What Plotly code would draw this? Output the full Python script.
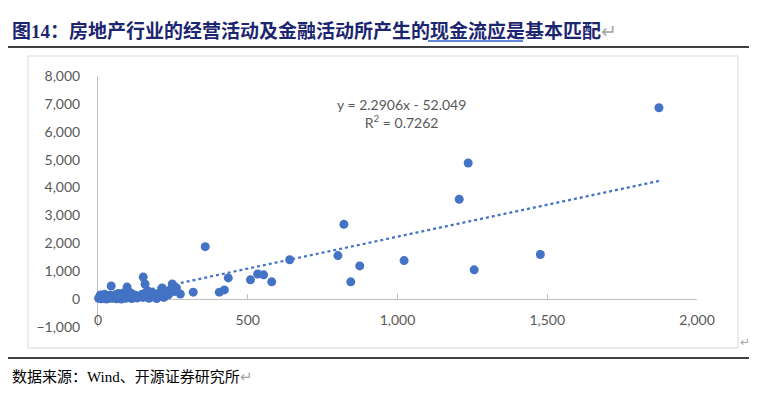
import plotly.graph_objects as go

# ---- data ----
x_vals = [2, 5, 8, 10, 12, 15, 18, 20, 22, 25, 28, 30, 33, 36, 40, 44, 45, 48, 52, 55,
          58, 62, 65, 68, 72, 75, 78, 82, 85, 88, 92, 95, 97, 100, 105, 108, 112, 115, 120, 125,
          130, 145, 150, 151, 155, 157, 160, 165, 170, 175, 180, 185, 190, 196, 200, 205, 210, 214,
          220, 228, 235, 240, 248, 255, 262, 275, 318, 358, 405, 422, 435, 509, 533, 553, 580,
          640, 801, 821, 844, 874, 1022, 1206, 1236, 1256, 1477, 1873]
y_vals = [30, 80, 150, 10, 60, 120, 20, 90, 170, 40, 0, 110, 60, 20, 140, 470, 70, 30, 100, 50,
          160, 10, 80, 200, 40, 120, 0, 60, 220, 100, 30, 150, 430, 60, 250, 120, 20, 180, 80, 140,
          40, 150, 60, 790, 200, 540, 100, 300, 30, 160, 250, 80, 120, 20, 200, 90, 140, 400,
          60, 250, 150, 330, 540, 270, 400, 180, 250, 1880, 250, 330, 760, 690, 900, 870, 620,
          1410, 1560, 2680, 620, 1190, 1380, 3580, 4880, 1050, 1600, 6860]

slope = 2.2906
intercept = -52.049
r2 = 0.7262

x_ticks = [0, 500, 1000, 1500, 2000]
y_ticks = [-1000, 0, 1000, 2000, 3000, 4000, 5000, 6000, 7000, 8000]

title_text = "图14：房地产行业的经营活动及金融活动所产生的现金流应是基本匹配"
source_text = "数据来源：Wind、开源证券研究所"

# ---- layout geometry (page pixels; the page body has an 8px margin) ----
BODY = 8
PAGE_W, PAGE_H = 757, 397
P_LEFT, P_RIGHT, P_TOP, P_BOTTOM = 98, 697, 76, 327   # plot area in page pixels
W, H = PAGE_W - BODY, PAGE_H - BODY
ML = P_LEFT - BODY
MT = P_TOP - BODY
MR = W - (P_RIGHT - BODY)
MB = H - (P_BOTTOM - BODY)
PW = P_RIGHT - P_LEFT
PH = P_BOTTOM - P_TOP


def px(xp):
    return (xp - P_LEFT) / PW


def py(yp):
    return (P_BOTTOM - yp) / PH


BLUE = "#4472C4"
GRAY_TXT = "#595959"
AXIS_GRAY = "#BFBFBF"

fig = go.Figure()

trend_x = [min(x_vals), max(x_vals)]
trend_y = [slope * v + intercept for v in trend_x]

fig.add_trace(go.Scatter(
    x=trend_x, y=trend_y, mode="lines", xaxis="x2", yaxis="y",
    line=dict(color=BLUE, width=2.25, dash="dot"),
    hoverinfo="skip", showlegend=False,
))

fig.add_trace(go.Scatter(
    x=x_vals, y=y_vals, mode="markers",
    marker=dict(color=BLUE, size=9, line=dict(width=0)),
    cliponaxis=False, showlegend=False,
))

fig.update_layout(
    width=W, height=H,
    margin=dict(l=ML, r=MR, t=MT, b=MB),
    paper_bgcolor="white", plot_bgcolor="white",
    showlegend=False,
    xaxis=dict(
        range=[x_ticks[0], x_ticks[-1]], tickvals=x_ticks, tickformat=",",
        showgrid=False, zeroline=False, showline=False, ticks="",
        ticklabelposition="inside", ticklabeloverflow="allow", ticklabelstandoff=-4,
        tickfont=dict(family="Lato, Open Sans, sans-serif", size=14, color=GRAY_TXT),
    ),
    xaxis2=dict(
        range=[x_ticks[0], x_ticks[-1]], tickvals=x_ticks, overlaying="x",
        anchor="free", position=(0 - y_ticks[0]) / (y_ticks[-1] - y_ticks[0]),
        showline=True, linecolor=AXIS_GRAY, linewidth=1, layer="below traces",
        ticks="inside", ticklen=5, tickcolor=AXIS_GRAY, tickwidth=1,
        showticklabels=False, showgrid=False, zeroline=False,
    ),
    yaxis=dict(
        range=[y_ticks[0], y_ticks[-1]], tickvals=y_ticks, tickformat=",",
        showgrid=False, zeroline=False, showline=True, linecolor=AXIS_GRAY, linewidth=1,
        layer="below traces",
        ticks="outside", ticklen=14, tickcolor="rgba(0,0,0,0)",
        tickfont=dict(family="Lato, Open Sans, sans-serif", size=14, color=GRAY_TXT),
    ),
)

shapes = [
    # chart frame
    dict(type="rect", xref="paper", yref="paper", x0=px(28), x1=px(738), y0=py(348), y1=py(56),
         line=dict(color="#D9D9D9", width=1), fillcolor="rgba(0,0,0,0)", layer="below"),
    # rule under title
    dict(type="line", xref="paper", yref="paper", x0=px(8), x1=px(757), y0=py(47), y1=py(47),
         line=dict(color="black", width=1.5)),
    # rule above source
    dict(type="line", xref="paper", yref="paper", x0=px(8), x1=px(757), y0=py(358), y1=py(358),
         line=dict(color="black", width=1.5)),
    # blue underline in title
    dict(type="line", xref="paper", yref="paper", x0=px(428), x1=px(523), y0=py(41), y1=py(41),
         line=dict(color="#2F5FD0", width=1.5)),
]
fig.update_layout(shapes=shapes)

annotations = [
    dict(xref="paper", yref="paper", x=px(10), y=py(31), xanchor="left", yanchor="middle",
         showarrow=False,
         text="<b>" + title_text + "</b><span style='color:#A6A6A6'>↵</span>",
         font=dict(family="Liberation Serif, Noto Sans CJK SC", size=19, color="#1B2570")),
    dict(xref="paper", yref="paper", x=px(10), y=py(377), xanchor="left", yanchor="middle",
         showarrow=False,
         text=source_text + "<span style='color:#A6A6A6'>↵</span>",
         font=dict(family="Liberation Serif, Noto Sans CJK SC", size=15, color="black")),
    dict(xref="paper", yref="paper", x=px(745), y=py(342), xanchor="center", yanchor="middle",
         showarrow=False, text="↵",
         font=dict(family="DejaVu Sans", size=12, color="#A6A6A6")),
    dict(xref="paper", yref="paper", x=px(401), y=py(113), xanchor="center", yanchor="middle",
         showarrow=False, align="center",
         text=f"y = {slope}x - {abs(intercept)}<br>R<sup>2</sup> = {r2}",
         font=dict(family="Lato, Open Sans, sans-serif", size=14, color=GRAY_TXT)),
]
fig.update_layout(annotations=annotations)

fig.write_html("out.html")
